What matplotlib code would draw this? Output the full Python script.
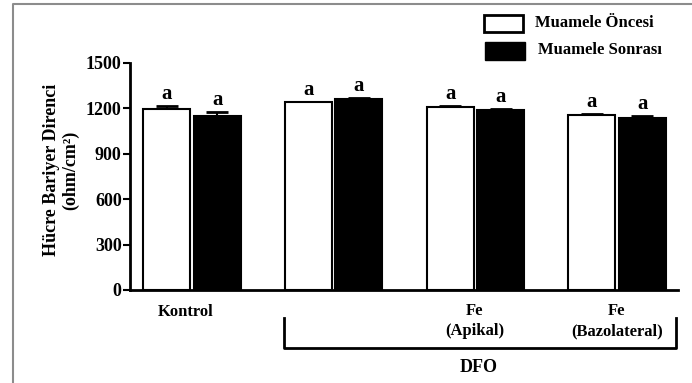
import numpy as np
import matplotlib
matplotlib.use("Agg")
import matplotlib.pyplot as plt
from matplotlib.patches import Rectangle
from matplotlib.lines import Line2D

# Data
groups = ["Kontrol", "DFO", "Fe\n(Apikal)", "Fe\n(Bazolateral)"]
before = [1195, 1238, 1208, 1155]
after = [1150, 1262, 1190, 1137]
before_err = [22, 5, 7, 7]
after_err = [26, 5, 7, 8]
letters_before = ["a", "a", "a", "a"]
letters_after = ["a", "a", "a", "a"]
yticks = [0, 300, 600, 900, 1200, 1500]

W, H = 692, 383
plt.rcParams["font.family"] = ["Liberation Serif", "DejaVu Serif"]
plt.rcParams["font.weight"] = "bold"


def fx(px):
    return px / W


def fy(py):
    return 1 - py / H


fig = plt.figure(figsize=(W / 100, H / 100), dpi=100)
fig.set_facecolor("white")
ax = fig.add_axes([fx(130), fy(290), fx(678) - fx(130), fy(62.7) - fy(290)])

x = np.arange(len(groups))
width = 0.33
off = 0.178

ax.bar(x - off, before, width, color="white", edgecolor="black", lw=1.5, zorder=3)
ax.bar(x + off, after, width, color="black", edgecolor="black", lw=1.5, zorder=3)

ax.errorbar(x - off, before, yerr=[np.zeros(4), before_err], fmt="none",
            ecolor="black", elinewidth=1.5, capsize=8, capthick=2, zorder=2)
ax.errorbar(x + off, after, yerr=[np.zeros(4), after_err], fmt="none",
            ecolor="black", elinewidth=1.5, capsize=8, capthick=2, zorder=2)

for xi, v, e, s in zip(x - off, before, before_err, letters_before):
    ax.annotate(s, (xi, v + e), xytext=(0, 1.5), textcoords="offset points",
                ha="center", va="bottom", fontsize=15, fontweight="bold")
for xi, v, e, s in zip(x + off, after, after_err, letters_after):
    ax.annotate(s, (xi, v + e), xytext=(0, 1.5), textcoords="offset points",
                ha="center", va="bottom", fontsize=15, fontweight="bold")

ax.set_xlim(-0.437, 3.43)
ax.set_ylim(0, 1500)
ax.set_yticks(yticks)
ax.set_yticklabels([str(t) for t in yticks], fontsize=13, fontweight="bold")
ax.set_xticks([])
for side in ["top", "right"]:
    ax.spines[side].set_visible(False)
for side in ["left", "bottom"]:
    ax.spines[side].set_linewidth(2)
ax.tick_params(axis="y", length=5, width=1.5, pad=1)

# y label
fig.text(fx(61), fy(170), "Hücre Bariyer Direnci\n(ohm/cm²)", rotation=90,
         ha="center", va="center", fontsize=13, fontweight="bold",
         multialignment="center", linespacing=1.1)

# group labels
fig.text(fx(186), fy(312), groups[0], ha="center", va="center", fontsize=12)
fig.text(fx(475), fy(321), groups[2], ha="center", va="center", fontsize=12,
         linespacing=1.35)
fig.text(fx(617), fy(321), groups[3], ha="center", va="center", fontsize=12,
         linespacing=1.35)

# DFO bracket
fig.add_artist(Line2D([fx(284), fx(284), fx(676), fx(676)],
                      [fy(318), fy(348), fy(348), fy(318)],
                      color="black", lw=2, transform=fig.transFigure))
fig.text(fx(479), fy(367), groups[1], ha="center", va="center", fontsize=13)

# legend
fig.add_artist(Rectangle((fx(484), fy(32)), fx(523) - fx(484), fy(15) - fy(32),
                         facecolor="white", edgecolor="black", lw=2,
                         transform=fig.transFigure))
fig.add_artist(Rectangle((fx(485), fy(60)), fx(525) - fx(485), fy(42) - fy(60),
                         facecolor="black", edgecolor="black", lw=1,
                         transform=fig.transFigure))
fig.text(fx(535), fy(23), "Muamele Öncesi", ha="left", va="center", fontsize=12)
fig.text(fx(538), fy(50), "Muamele Sonrası", ha="left", va="center", fontsize=12)

# gray frame (left and top edges)
fig.add_artist(Line2D([fx(13), fx(13), fx(692)], [fy(383), fy(4), fy(4)],
                      color="#8c8c8c", lw=1.5, transform=fig.transFigure))

fig.savefig("out.png", dpi=100, facecolor="white")
